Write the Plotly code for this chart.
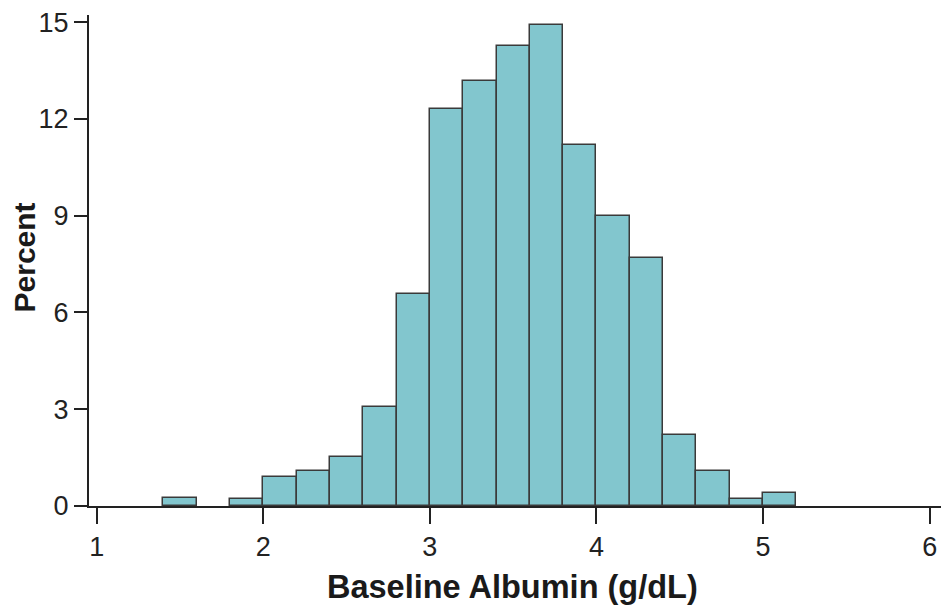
import plotly.graph_objects as go

bin_starts = [1.4, 1.6, 1.8, 2.0, 2.2, 2.4, 2.6, 2.8, 3.0, 3.2, 3.4, 3.6, 3.8, 4.0, 4.2, 4.4, 4.6, 4.8, 5.0]
percent = [0.25, 0.0, 0.21, 0.89, 1.10, 1.53, 3.06, 6.58, 12.30, 13.17, 14.25, 14.92, 11.19, 8.99, 7.69, 2.19, 1.10, 0.21, 0.41]
bin_width = 0.2
x_ticks = [1, 2, 3, 4, 5, 6]
y_ticks = [0, 3, 6, 9, 12, 15]
x_title = "Baseline Albumin (g/dL)"
y_title = "Percent"

# empty bins draw nothing
centers = [s + bin_width / 2 for s, p in zip(bin_starts, percent) if p > 0]
heights = [p for p in percent if p > 0]

fig = go.Figure(go.Bar(
    x=centers, y=heights, width=[bin_width] * len(centers),
    marker=dict(color="#82C6CE", line=dict(color="#3a3a3a", width=1.5)),
))

font_family = "Liberation Sans, Arial, sans-serif"
# page body has an 8px default margin, so the figure is sized/offset to compensate
fig.update_layout(
    width=941, height=606,
    margin=dict(l=81, r=0, t=7, b=108, autoexpand=False),
    paper_bgcolor="white", plot_bgcolor="white",
    showlegend=False,
    font=dict(family=font_family, color="#222222", size=27),
    bargap=0,
    annotations=[
        dict(text=f"<b>{x_title}</b>", xref="paper", yref="paper", x=0.493, y=0,
             xanchor="center", yanchor="middle", yshift=-81, showarrow=False,
             font=dict(size=32.5, family=font_family, color="#1a1a1a")),
        dict(text=f"<b>{y_title}</b>", xref="paper", yref="paper", x=-0.0745, y=0.506,
             xanchor="center", yanchor="middle", textangle=-90, showarrow=False,
             borderpad=0,
             font=dict(size=30, family=font_family, color="#1a1a1a")),
    ],
)
fig.update_xaxes(
    range=[0.954, 6.116], tickvals=x_ticks, ticktext=[str(t) for t in x_ticks],
    showgrid=False, zeroline=False, showline=True, linecolor="#222222", linewidth=2,
    ticks="outside", ticklen=16, tickwidth=2, tickcolor="#222222", automargin=False,
    ticklabeloverflow="allow",
    tickfont=dict(size=27, family=font_family, color="#222222"),
)
fig.update_yaxes(
    range=[0, 15.22], tickvals=y_ticks, ticktext=[str(t) for t in y_ticks],
    showgrid=False, zeroline=False, showline=True, linecolor="#222222", linewidth=2,
    ticks="outside", ticklen=13, tickwidth=2, tickcolor="#222222", automargin=False,
    ticklabeloverflow="allow",
    tickfont=dict(size=27, family=font_family, color="#222222"),
)

fig.write_html("out.html")
